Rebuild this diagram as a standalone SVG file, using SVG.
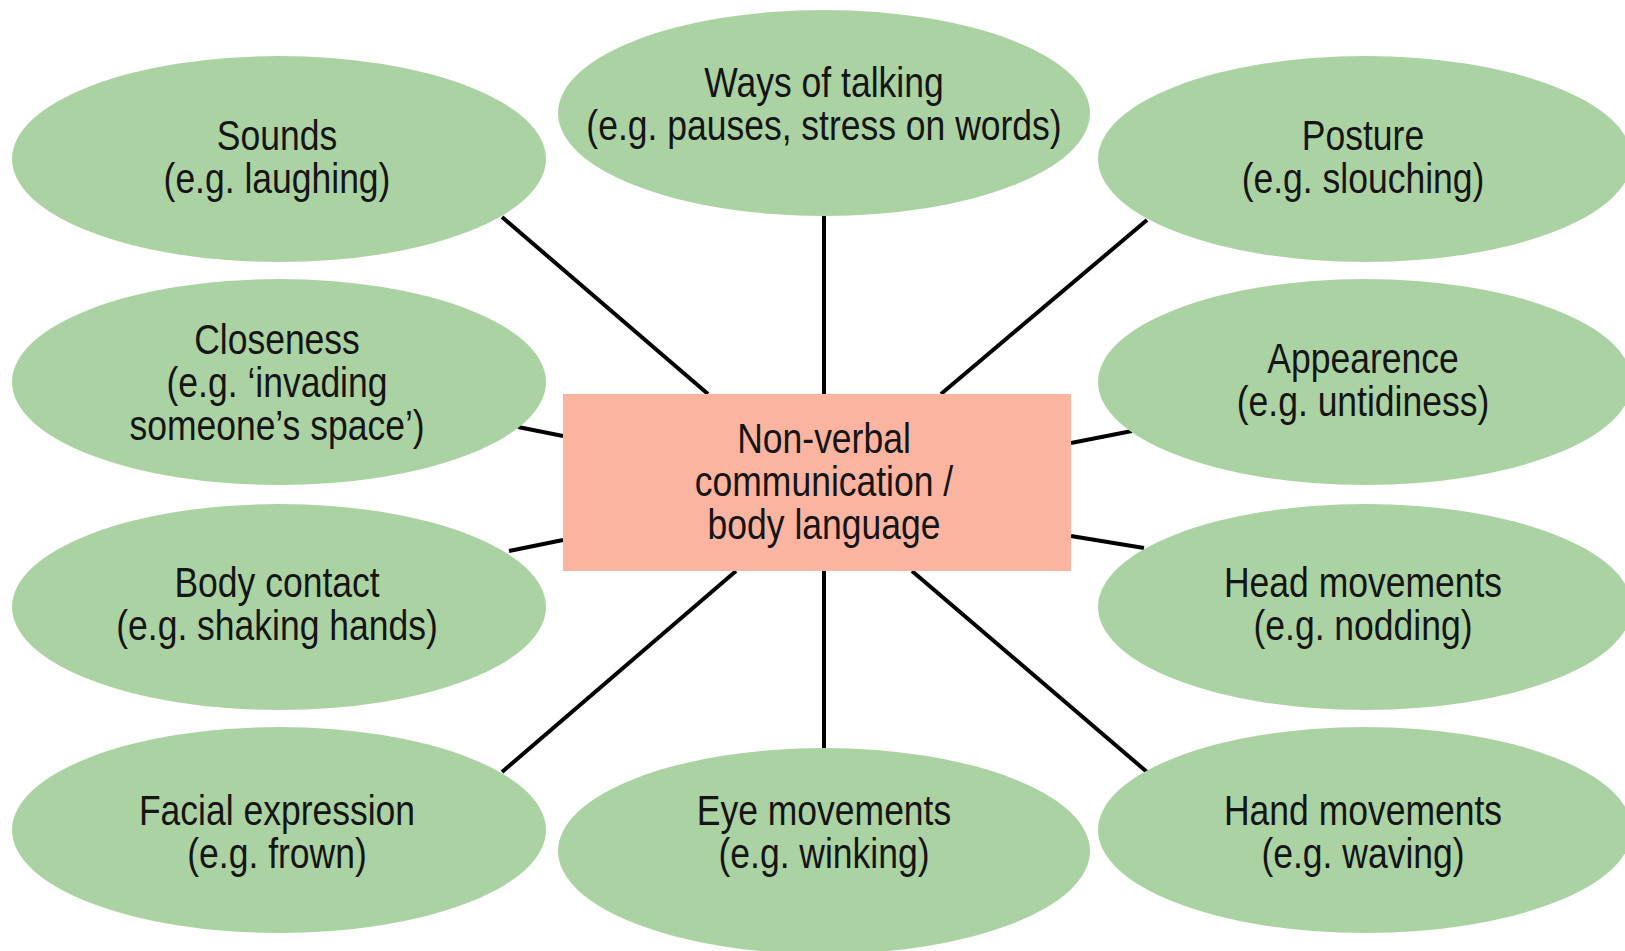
<svg xmlns="http://www.w3.org/2000/svg" width="1625" height="951" viewBox="0 0 1625 951">
<style>
.node ellipse{fill:#abd2a3}
.center rect{fill:#fbb4a0}
text{font-family:"Liberation Sans",Arial,sans-serif;font-size:42px;fill:#151515;text-anchor:middle}
.edges line{stroke:#000;stroke-width:4}
</style>
<rect width="1625" height="951" fill="#fff"/>
<g id="edges" class="edges">
<line x1="502" y1="217" x2="708" y2="394"/>
<line x1="824" y1="216" x2="824" y2="394"/>
<line x1="1147" y1="220" x2="941" y2="394"/>
<line x1="518" y1="427" x2="563" y2="436"/>
<line x1="1071" y1="443" x2="1132" y2="431"/>
<line x1="509" y1="551" x2="563" y2="540"/>
<line x1="1071" y1="536" x2="1144" y2="548"/>
<line x1="502" y1="772" x2="736" y2="571"/>
<line x1="824" y1="571" x2="824" y2="748"/>
<line x1="912" y1="571" x2="1147" y2="772"/>
</g>
<g id="center" class="center">
<rect x="563" y="394" width="508" height="177"/>
<g transform="translate(824,0) scale(0.845,1)">
<text x="0" y="453">Non-verbal</text>
<text x="0" y="496">communication /</text>
<text x="0" y="539">body language</text>
</g>
</g>
<g id="sounds" class="node">
<ellipse cx="279" cy="159" rx="267" ry="103"/>
<g transform="translate(277,0) scale(0.845,1)">
<text x="0" y="150">Sounds</text>
<text x="0" y="193">(e.g. laughing)</text>
</g>
</g>
<g id="ways" class="node">
<ellipse cx="824" cy="113" rx="266" ry="103"/>
<g transform="translate(824,0) scale(0.845,1)">
<text x="0" y="97">Ways of talking</text>
<text x="0" y="140">(e.g. pauses, stress on words)</text>
</g>
</g>
<g id="posture" class="node">
<ellipse cx="1365" cy="159" rx="267" ry="103"/>
<g transform="translate(1363,0) scale(0.845,1)">
<text x="0" y="150">Posture</text>
<text x="0" y="193">(e.g. slouching)</text>
</g>
</g>
<g id="closeness" class="node">
<ellipse cx="279" cy="382" rx="267" ry="103"/>
<g transform="translate(277,0) scale(0.845,1)">
<text x="0" y="354">Closeness</text>
<text x="0" y="397">(e.g. ‘invading</text>
<text x="0" y="440">someone’s space’)</text>
</g>
</g>
<g id="appearence" class="node">
<ellipse cx="1365" cy="382" rx="267" ry="103"/>
<g transform="translate(1363,0) scale(0.845,1)">
<text x="0" y="373">Appearence</text>
<text x="0" y="416">(e.g. untidiness)</text>
</g>
</g>
<g id="body-contact" class="node">
<ellipse cx="279" cy="607" rx="267" ry="103"/>
<g transform="translate(277,0) scale(0.845,1)">
<text x="0" y="597">Body contact</text>
<text x="0" y="640">(e.g. shaking hands)</text>
</g>
</g>
<g id="head" class="node">
<ellipse cx="1365" cy="607" rx="267" ry="103"/>
<g transform="translate(1363,0) scale(0.845,1)">
<text x="0" y="597">Head movements</text>
<text x="0" y="640">(e.g. nodding)</text>
</g>
</g>
<g id="facial" class="node">
<ellipse cx="279" cy="830" rx="267" ry="103"/>
<g transform="translate(277,0) scale(0.845,1)">
<text x="0" y="825">Facial expression</text>
<text x="0" y="868">(e.g. frown)</text>
</g>
</g>
<g id="eye" class="node">
<ellipse cx="824" cy="851" rx="266" ry="103"/>
<g transform="translate(824,0) scale(0.845,1)">
<text x="0" y="825">Eye movements</text>
<text x="0" y="868">(e.g. winking)</text>
</g>
</g>
<g id="hand" class="node">
<ellipse cx="1365" cy="830" rx="267" ry="103"/>
<g transform="translate(1363,0) scale(0.845,1)">
<text x="0" y="825">Hand movements</text>
<text x="0" y="868">(e.g. waving)</text>
</g>
</g>
</svg>
